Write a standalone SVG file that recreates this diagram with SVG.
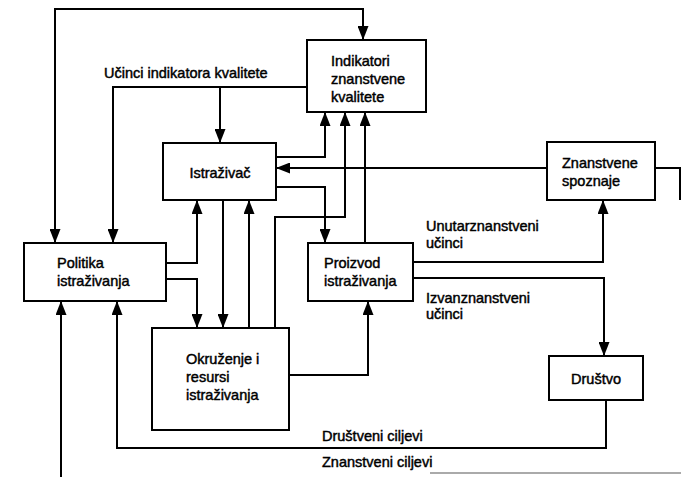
<svg xmlns="http://www.w3.org/2000/svg" width="681" height="477" viewBox="0 0 681 477">
<style>
.box{fill:#fff;stroke:#000;stroke-width:2}
.c{fill:none;stroke:#000;stroke-width:2}
.a{marker-end:url(#arr)}
text{font-family:"Liberation Sans",Arial,sans-serif;font-size:14.5px;fill:#000;stroke:#000;stroke-width:0.45}
</style>
<defs>
<marker id="arr" viewBox="0 0 14 11" refX="14" refY="5.5" markerWidth="14" markerHeight="11" markerUnits="userSpaceOnUse" orient="auto">
<path d="M0,0 L14,5.5 L0,11 z" fill="#000"/>
</marker>
</defs>
<rect width="681" height="477" fill="#fff"/>
<g id="connectors">
<path class="c a" d="M200,9 H55 V243"/>
<path class="c a" d="M200,9 H363 V40"/>
<path class="c a" d="M307,87 H113 V243"/>
<path class="c a" d="M220,87 V143"/>
<path class="c a" d="M276,157 H325 V112"/>
<path class="c a" d="M547,168 H276"/>
<path class="c" d="M655,168 H680 V200"/>
<path class="c a" d="M276,187 H325 V243"/>
<path class="c a" d="M166,263 H197 V200"/>
<path class="c a" d="M166,279 H197 V328"/>
<path class="c a" d="M223,200 V328"/>
<path class="c a" d="M249,328 V200"/>
<path class="c a" d="M275,328 V217 H345 V112"/>
<path class="c a" d="M365,243 V112"/>
<path class="c a" d="M289,375 H368 V301"/>
<path class="c a" d="M413,262 H603 V200"/>
<path class="c a" d="M413,278 H604 V356"/>
<path class="c a" d="M606,400 V448 H117 V301"/>
<path class="c a" d="M61,477 V301"/>
<path d="M430,473 H681" fill="none" stroke="#aaa" stroke-width="2"/>
<text x="104" y="78">Učinci indikatora kvalitete</text>
<text x="426" y="231">Unutarznanstveni</text>
<text x="426" y="248">učinci</text>
<text x="426" y="303">Izvanznanstveni</text>
<text x="426" y="319">učinci</text>
<text x="322" y="441">Društveni ciljevi</text>
<text x="322" y="467">Znanstveni ciljevi</text>
</g>
<g id="indikatori">
<rect class="box" x="307" y="40" width="119" height="72"/>
<text x="331" y="66">Indikatori</text>
<text x="331" y="84">znanstvene</text>
<text x="331" y="102">kvalitete</text>
</g>
<g id="istrazivac">
<rect class="box" x="163" y="143" width="113" height="57"/>
<text x="220" y="178" text-anchor="middle">Istraživač</text>
</g>
<g id="znanstvene-spoznaje">
<rect class="box" x="547" y="142" width="108" height="58"/>
<text x="562" y="168">Znanstvene</text>
<text x="562" y="186">spoznaje</text>
</g>
<g id="politika">
<rect class="box" x="24" y="243" width="142" height="58"/>
<text x="57" y="268">Politika</text>
<text x="57" y="286">istraživanja</text>
</g>
<g id="proizvod">
<rect class="box" x="308" y="243" width="105" height="58"/>
<text x="324" y="268">Proizvod</text>
<text x="324" y="286">istraživanja</text>
</g>
<g id="okruzenje">
<rect class="box" x="152" y="328" width="137" height="102"/>
<text x="186" y="364">Okruženje i</text>
<text x="186" y="382">resursi</text>
<text x="186" y="400">istraživanja</text>
</g>
<g id="drustvo">
<rect class="box" x="549" y="356" width="94" height="44"/>
<text x="596" y="384" text-anchor="middle">Društvo</text>
</g>
</svg>
